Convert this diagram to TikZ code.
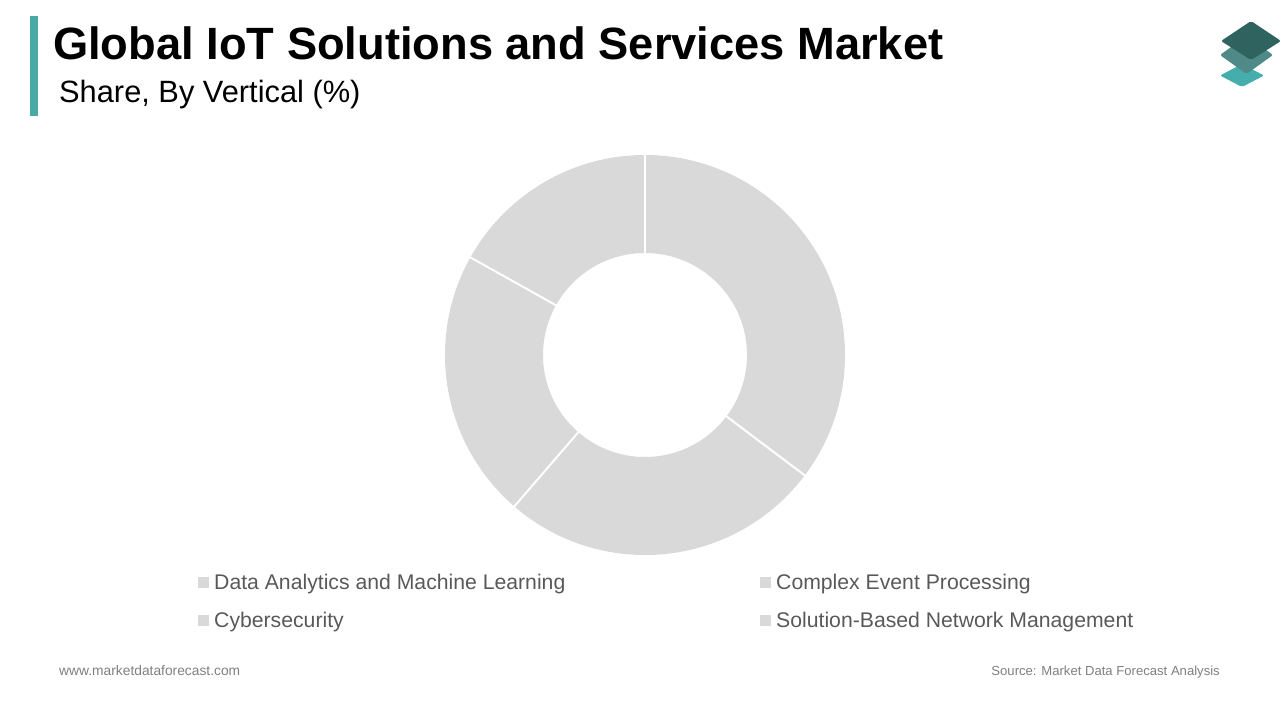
\documentclass[tikz,border=0pt]{standalone}
\usepackage{fontspec}
\setmainfont{Liberation Sans}
\definecolor{tealbar}{HTML}{4AA9A6}
\definecolor{slicegray}{HTML}{D9D9D9}
\definecolor{legendtext}{HTML}{595959}
\definecolor{foottext}{HTML}{7F7F7F}
\definecolor{logotop}{HTML}{2F6360}
\definecolor{logomid}{HTML}{4F8A88}
\definecolor{logolow}{HTML}{45AEAC}
\tikzset{
  legendbox/.style={fill=slicegray, minimum size=10.5pt, inner sep=0pt},
  legendlabel/.style={text=legendtext, anchor=base west, inner sep=0pt, font=\fontsize{21.2}{25}\selectfont},
  footlabel/.style={text=foottext, inner sep=0pt},
  logoplate/.style={rounded corners=2pt}
}
\begin{document}
\begin{tikzpicture}[x=1pt,y=-1pt]
  \useasboundingbox (0,0) rectangle (1280,720);
  \fill[tealbar] (30,16) rectangle (38,116);
  \node[anchor=base west, inner sep=0pt, font=\fontsize{45.25}{54}\selectfont\bfseries] (title) at (53,59) {Global IoT Solutions and Services Market};
  \node[anchor=base west, inner sep=0pt, font=\fontsize{30.8}{37}\selectfont] (subtitle) at (59,102.5) {Share, By Vertical (\%)};
  % logo
  \fill[logolow,logoplate] (1220,75.5) -- (1242,64) -- (1264,75.5) -- (1242,87) -- cycle;
  \fill[logomid,logoplate] (1220,55) -- (1246.5,36) -- (1273,55) -- (1246.5,74) -- cycle;
  \fill[logotop,logoplate] (1221,41) -- (1251,21) -- (1281,41) -- (1251,60) -- cycle;
  % donut
  \coordinate (center) at (645,355);
  \fill[slicegray,even odd rule] (center) circle (200) (center) circle (102);
  \foreach \ang in {-90,37,130.8,-150.8}
    \draw[white,line width=2pt] (center) ++(\ang:101) -- ++(\ang:100.5);
  % legend
  \node[legendbox] (boxa) at (203.5,582.5) {};
  \node[legendbox] (boxb) at (765.5,582.5) {};
  \node[legendbox] (boxc) at (203.5,620.5) {};
  \node[legendbox] (boxd) at (765.5,620.5) {};
  \node[legendlabel] (laba) at (214,589) {Data Analytics and Machine Learning};
  \node[legendlabel] (labb) at (776,589) {Complex Event Processing};
  \node[legendlabel] (labc) at (214,627) {Cybersecurity};
  \node[legendlabel] (labd) at (776,627) {Solution-Based Network Management};
  % footer
  \node[footlabel,anchor=base west,font=\fontsize{13.8}{16}\selectfont] (site) at (59,675) {www.marketdataforecast.com};
  \node[footlabel,anchor=base east,font=\fontsize{13.1}{16}\selectfont] (source) at (1220,675) {Source: Market Data Forecast Analysis};
\end{tikzpicture}
\end{document}
